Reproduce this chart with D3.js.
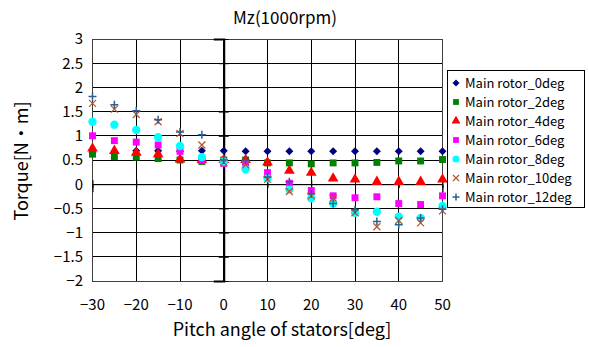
<!DOCTYPE html>
<html>
<head>
<meta charset="utf-8">
<script src="https://cdn.jsdelivr.net/npm/d3@7"></script>
<style>
  body { margin: 0; background: #fff; }
  text { font-family: "Noto Sans CJK JP", "DejaVu Sans", sans-serif; fill: #000; }
</style>
</head>
<body>
<div id="chart"></div>
<script>
// --- data ---
const pitchAngles = [-30, -25, -20, -15, -10, -5, 0, 5, 10, 15, 20, 25, 30, 35, 40, 45, 50];
const seriesNames = ["Main rotor_0deg", "Main rotor_2deg", "Main rotor_4deg", "Main rotor_6deg",
                     "Main rotor_8deg", "Main rotor_10deg", "Main rotor_12deg"];
const rotor0 = [0.65, 0.65, 0.69, 0.69, 0.68, 0.69, 0.69, 0.68, 0.68, 0.68, 0.68, 0.68, 0.68, 0.68, 0.68, 0.68, 0.68];
const rotor2 = [0.62, 0.57, 0.56, 0.53, 0.50, 0.47, 0.50, 0.50, 0.44, 0.44, 0.42, 0.44, 0.44, 0.45, 0.48, 0.48, 0.51];
const rotor4 = [0.74, 0.69, 0.65, 0.62, 0.51, 0.50, 0.50, 0.50, 0.45, 0.28, 0.24, 0.12, 0.10, 0.05, 0.05, 0.05, 0.10];
const rotor6 = [1.00, 0.90, 0.87, 0.81, 0.68, 0.50, 0.43, 0.42, 0.24, 0.02, -0.13, -0.24, -0.28, -0.26, -0.40, -0.42, -0.24];
const rotor8 = [1.29, 1.23, 1.12, 0.97, 0.79, 0.56, 0.47, 0.31, 0.12, -0.11, -0.29, -0.40, -0.59, -0.57, -0.67, -0.70, -0.45];
const rotor10 = [1.67, 1.55, 1.44, 1.29, 1.05, 0.81, 0.45, 0.40, 0.10, -0.15, -0.24, -0.29, -0.59, -0.88, -0.75, -0.80, -0.55];
const rotor12 = [1.81, 1.64, 1.52, 1.33, 1.08, 1.02, 0.50, 0.50, 0.15, 0.05, -0.20, -0.40, -0.53, -0.77, -0.84, -0.70, -0.52];
const xTicks = [-30, -20, -10, 0, 10, 20, 30, 40, 50];
const yTicks = [-2, -1.5, -1, -0.5, 0, 0.5, 1, 1.5, 2, 2.5, 3];

// --- layout ---
const W = 589, H = 347;
const PLOT = { left: 92.5, right: 442.5, top: 39, bottom: 281 };

const allSeries = [rotor0, rotor2, rotor4, rotor6, rotor8, rotor10, rotor12];
const markers = [
  { type: "diamond", size: 8, color: "#000080" },
  { type: d3.symbolSquare, size: 48, color: "#008000" },
  { type: d3.symbolTriangle, size: 50, color: "#ff0000" },
  { type: d3.symbolSquare, size: 48, color: "#ff00ff" },
  { type: d3.symbolCircle, size: 55, color: "#00ffff" },
  { type: "x", size: 7, color: "#b5542a" },
  { type: "+", size: 8, color: "#2f5f8f" }
];

const svg = d3.select("#chart").append("svg")
  .attr("width", W).attr("height", H);

const x = d3.scaleLinear().domain([-30, 50]).range([PLOT.left, PLOT.right]);
const y = d3.scaleLinear().domain([-2, 3]).range([PLOT.bottom, PLOT.top]);

// gridlines
const grid = svg.append("g").attr("stroke", "#000").attr("stroke-width", 1).attr("shape-rendering", "crispEdges");
grid.selectAll(".gx").data(xTicks).join("line")
  .attr("x1", d => x(d)).attr("x2", d => x(d))
  .attr("y1", PLOT.top).attr("y2", PLOT.bottom);
grid.selectAll(".gy").data(yTicks).join("line")
  .attr("x1", PLOT.left).attr("x2", PLOT.right)
  .attr("y1", d => y(d)).attr("y2", d => y(d));

svg.append("rect")
  .attr("x", PLOT.left).attr("y", PLOT.top)
  .attr("width", PLOT.right - PLOT.left).attr("height", PLOT.bottom - PLOT.top)
  .attr("fill", "none").attr("stroke", "#404040").attr("shape-rendering", "crispEdges");

// axes crossing at zero
const yAxisG = svg.append("g").attr("transform", `translate(${x(0)},0)`)
  .call(d3.axisLeft(y).tickValues(yTicks).tickSize(10).tickFormat(""));
yAxisG.selectAll(".tick line").attr("transform", "translate(5,0)");
yAxisG.select(".domain").attr("stroke-width", 2);
const xAxisG = svg.append("g").attr("transform", `translate(0,${y(0)})`)
  .call(d3.axisBottom(x).tickValues(xTicks).tickSize(8).tickFormat(""));
xAxisG.selectAll(".tick line").attr("transform", "translate(0,-4)");
svg.selectAll(".domain").attr("stroke", "#000");

// tick labels
const fmt = d3.format("");
svg.append("g").selectAll("text").data(yTicks).join("text")
  .attr("x", 83).attr("y", d => y(d))
  .attr("dy", "0.36em").attr("text-anchor", "end")
  .style("font-size", "15px")
  .text(d => fmt(d));
svg.append("g").selectAll("text").data(xTicks).join("text")
  .attr("x", d => x(d)).attr("y", 305)
  .attr("dy", "0.36em").attr("text-anchor", "middle")
  .style("font-size", "15px")
  .text(d => fmt(d));

// titles
svg.append("text").attr("x", 285).attr("y", 24).attr("text-anchor", "middle")
  .style("font-size", "17px").text("Mz(1000rpm)");
svg.append("text").attr("x", 282).attr("y", 336).attr("text-anchor", "middle")
  .style("font-size", "18px").text("Pitch angle of stators[deg]");
svg.append("text").attr("transform", "translate(28,161) rotate(-90)").attr("text-anchor", "middle")
  .style("font-size", "18px").text("Torque[N・m]");

// marker drawing
function drawMarker(g, m) {
  const s = m.size / 2;
  if (m.type === "x") {
    g.append("path").attr("d", `M${-s},${-s}L${s},${s}M${-s},${s}L${s},${-s}`)
      .attr("stroke", m.color).attr("stroke-width", 1.2).attr("fill", "none");
  } else if (m.type === "+") {
    g.append("path").attr("d", `M${-s},0L${s},0M0,${-s}L0,${s}`)
      .attr("stroke", m.color).attr("stroke-width", 1.5).attr("fill", "none");
  } else if (m.type === "diamond") {
    g.append("path").attr("d", `M0,${-s}L${s},0L0,${s}L${-s},0Z`)
      .attr("fill", m.color);
  } else {
    g.append("path").attr("d", d3.symbol().type(m.type).size(m.size)())
      .attr("fill", m.color);
  }
}

allSeries.forEach((vals, i) => {
  const g = svg.append("g");
  vals.forEach((v, j) => {
    const mg = g.append("g").attr("transform", `translate(${x(pitchAngles[j])},${y(v)})`);
    drawMarker(mg, markers[i]);
  });
});

// legend
const legend = svg.append("g");
legend.append("rect").attr("x", 447.5).attr("y", 70.5).attr("width", 137).attr("height", 137)
  .attr("fill", "#fff").attr("stroke", "#000");
seriesNames.forEach((name, i) => {
  const ly = 83 + i * 19;
  const mg = legend.append("g").attr("transform", `translate(456,${ly})`);
  drawMarker(mg, Object.assign({}, markers[i], { size: typeof markers[i].type === "string" ? markers[i].size - 1 : markers[i].size * 0.7 }));
  legend.append("text").attr("x", 465).attr("y", ly).attr("dy", "0.36em")
    .style("font-size", "13px").text(name);
});
</script>
</body>
</html>
